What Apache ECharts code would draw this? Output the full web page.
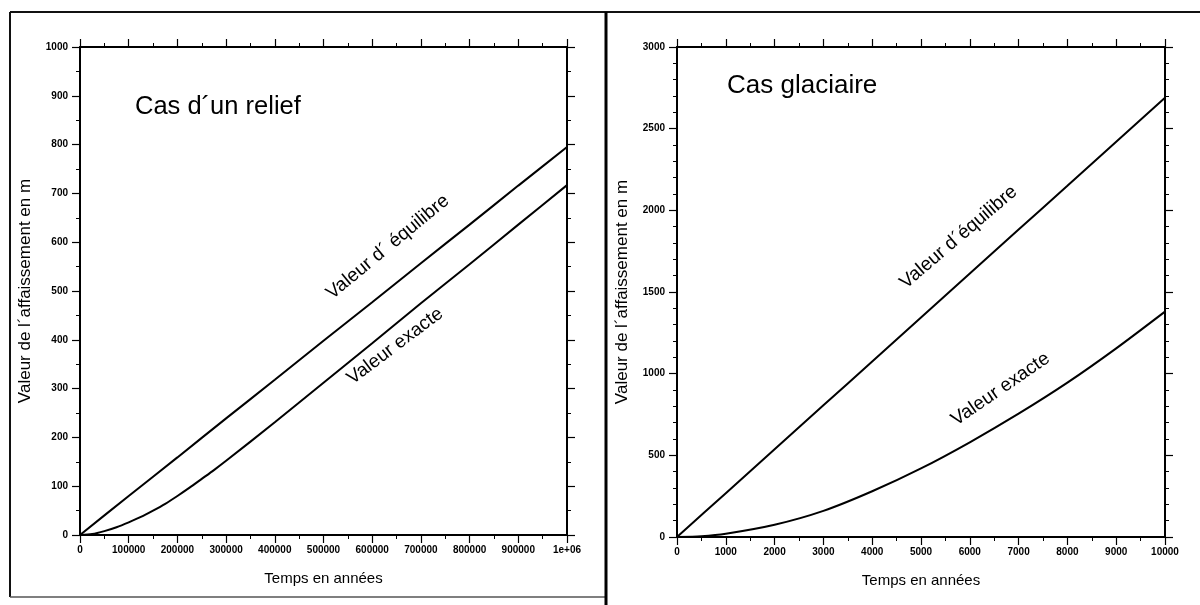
<!DOCTYPE html>
<html>
<head>
<meta charset="utf-8">
<script src="https://cdn.jsdelivr.net/npm/echarts@6/dist/echarts.min.js"></script>
<style>
html,body{margin:0;padding:0;background:#fff;}
#c{width:1200px;height:605px;}
</style>
</head>
<body>
<div id="c"></div>
<script>
// ---- Data ----
// Left panel: "Cas d´un relief" (time in years, subsidence in m)
const reliefEqT    = [0, 100000, 200000, 300000, 400000, 500000, 600000, 700000, 800000, 900000, 1000000];
const reliefEqV    = [0, 80, 159, 239, 318, 398, 477, 557, 636, 716, 795];
const reliefExT    = [0, 25000, 50000, 75000, 100000, 125000, 150000, 175000, 200000, 225000, 250000, 275000, 300000, 400000, 500000, 600000, 700000, 800000, 900000, 1000000];
const reliefExV    = [0, 2, 8, 16, 26, 37, 50, 64, 80, 97, 115, 133, 152, 231, 312, 393, 475, 555, 636, 717];
// Right panel: "Cas glaciaire"
const glacEqT      = [0, 1000, 2000, 3000, 4000, 5000, 6000, 7000, 8000, 9000, 10000];
const glacEqV      = [0, 268, 537, 806, 1075, 1344, 1613, 1882, 2150, 2420, 2690];
const glacExT      = [0, 500, 1000, 2000, 3000, 4000, 5000, 6000, 7000, 8000, 9000, 10000];
const glacExV      = [0, 5, 20, 75, 160, 280, 420, 580, 755, 945, 1155, 1380];

const titles       = ['Cas d\u00b4un relief', 'Cas glaciaire'];
const xName        = 'Temps en ann\u00e9es';
const yName        = 'Valeur de l\u00b4affaissement en m';
const eqLabels     = ['Valeur d\u00b4 \u00e9quilibre', 'Valeur d\u00b4\u00e9quilibre'];
const exLabel      = 'Valeur exacte';

const FONT = '"Liberation Sans", Arial, Helvetica, sans-serif';

function pairs(t, v){ return t.map((x,i)=>[x, v[i]]); }

function xAxes(grid, max, interval, fmt){
  const base = {
    type:'value', gridIndex:grid, min:0, max:max, interval:interval,
    axisLine:{show:true, onZero:false, lineStyle:{color:'#000', width:2}},
    axisTick:{show:true, inside:false, length:8, lineStyle:{color:'#000', width:1.2}},
    minorTick:{show:true, splitNumber:2, length:4, lineStyle:{color:'#000', width:1}},
    splitLine:{show:false}, minorSplitLine:{show:false}
  };
  return [
    Object.assign({}, base, {position:'bottom', name:xName, nameLocation:'middle', nameGap:36,
      nameTextStyle:{fontFamily:FONT, fontSize:15, color:'#000'},
      axisLabel:{show:true, margin:10, fontFamily:FONT, fontSize:10, fontWeight:'bold', color:'#000', formatter:fmt}}),
    Object.assign({}, base, {position:'top', axisLabel:{show:false}})
  ];
}
function yAxes(grid, max, interval, minorSplit){
  const base = {
    type:'value', gridIndex:grid, min:0, max:max, interval:interval,
    axisLine:{show:true, onZero:false, lineStyle:{color:'#000', width:2}},
    axisTick:{show:true, inside:false, length:8, lineStyle:{color:'#000', width:1.2}},
    minorTick:{show:true, splitNumber:minorSplit, length:4, lineStyle:{color:'#000', width:1}},
    splitLine:{show:false}, minorSplitLine:{show:false}
  };
  return [
    Object.assign({}, base, {position:'left', name:yName, nameLocation:'middle', nameGap:46,
      nameTextStyle:{fontFamily:FONT, fontSize:17, color:'#000'},
      axisLabel:{show:true, margin:12, fontFamily:FONT, fontSize:10, fontWeight:'bold', color:'#000',
                 formatter:v => String(v)}}),
    Object.assign({}, base, {position:'right', axisLabel:{show:false}})
  ];
}

const lineStyle = {color:'#000', width:2};
function curve(data, xi, yi){
  return {type:'line', data:data, xAxisIndex:xi, yAxisIndex:yi, smooth:0.25, symbol:'none',
          lineStyle:lineStyle, silent:true};
}

const chart = echarts.init(document.getElementById('c'), null, {renderer:'canvas'});
const option = {
  animation:false,
  backgroundColor:'#fff',
  title:[
    {text:titles[0], left:130, top:89, textStyle:{fontFamily:FONT, fontSize:25.5, fontWeight:'normal', color:'#000'}},
    {text:titles[1], left:722, top:68, textStyle:{fontFamily:FONT, fontSize:26, fontWeight:'normal', color:'#000'}}
  ],
  grid:[
    {left:80, top:47, width:487, height:488},
    {left:677, top:47, width:488, height:490}
  ],
  xAxis: [].concat(
    xAxes(0, 1000000, 100000, v => v === 1000000 ? '1e+06' : String(v)),
    xAxes(1, 10000, 1000, v => String(v))
  ),
  yAxis: [].concat(
    yAxes(0, 1000, 100, 2),
    yAxes(1, 3000, 500, 5)
  ),
  series:[
    curve(pairs(reliefEqT, reliefEqV), 0, 0),
    curve(pairs(reliefExT, reliefExV), 0, 0),
    curve(pairs(glacEqT, glacEqV), 2, 2),
    curve(pairs(glacExT, glacExV), 2, 2)
  ]
};
chart.setOption(option);

// Annotation texts placed at data coordinates, rotated along the curves
function px(grid, pt){ return chart.convertToPixel({xAxisIndex:grid*2, yAxisIndex:grid*2}, pt); }
function rotText(text, grid, pt, deg){
  const p = px(grid, pt);
  return {type:'text', x:p[0], y:p[1], rotation:deg*Math.PI/180,
          style:{text:text, fontFamily:FONT, fontSize:19, fill:'#000', align:'center', verticalAlign:'middle'}};
}
const g = [
  rotText(eqLabels[0], 0, [632000, 590], 39.5),
  rotText(exLabel, 0, [647000, 387], 37),
  rotText(eqLabels[1], 1, [5770, 1835], 40.5),
  rotText(exLabel, 1, [6632, 905], 34.5),
  // scanned page frame
  {type:'line', shape:{x1:10, y1:12, x2:1200, y2:12}, style:{stroke:'#111', lineWidth:2}},
  {type:'line', shape:{x1:10, y1:12, x2:10, y2:597}, style:{stroke:'#111', lineWidth:2}},
  {type:'line', shape:{x1:10, y1:597, x2:606, y2:597}, style:{stroke:'#555', lineWidth:1.5}},
  {type:'line', shape:{x1:606, y1:12, x2:606, y2:605}, style:{stroke:'#000', lineWidth:3}}
];
chart.setOption({graphic:g});
</script>
</body>
</html>
